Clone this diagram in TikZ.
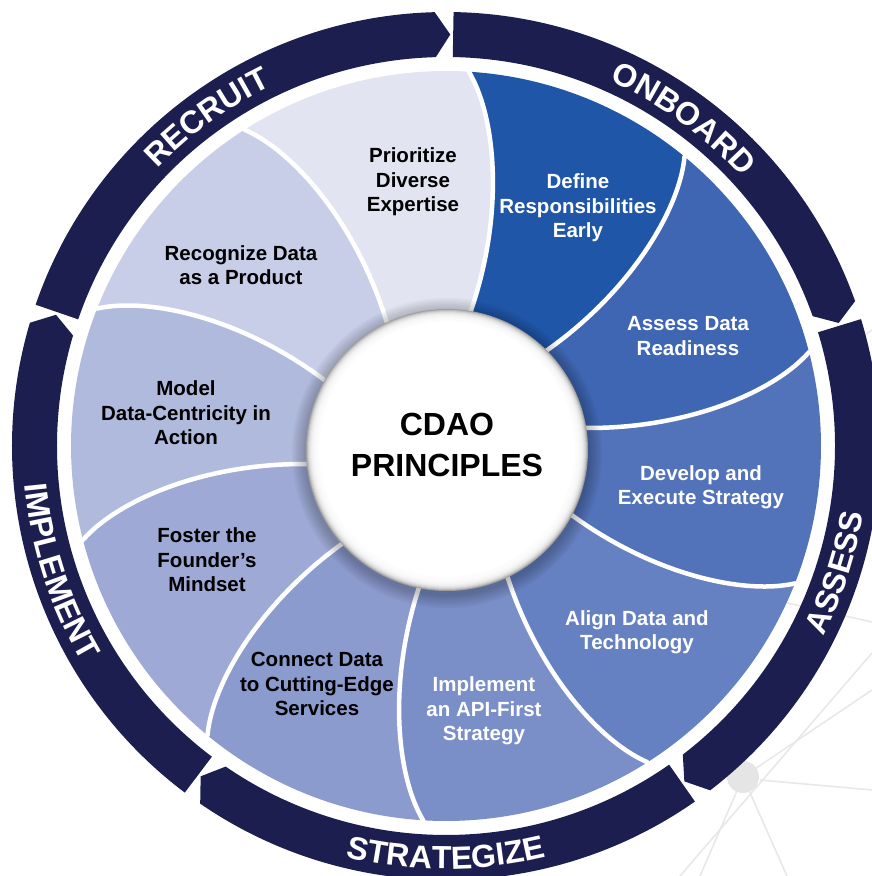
\documentclass[tikz,border=0pt]{standalone}
\usepackage{fontspec}
\setmainfont{Liberation Sans}
\usepackage{xcolor}
\definecolor{ringnavy}{HTML}{1D1E50}
\definecolor{petalPD}{HTML}{E2E5F1}
\definecolor{petalDR}{HTML}{2056A8}
\definecolor{petalAD}{HTML}{3F66B2}
\definecolor{petalDE}{HTML}{5272B9}
\definecolor{petalAT}{HTML}{6681C1}
\definecolor{petalIA}{HTML}{7A8FC8}
\definecolor{petalCD}{HTML}{8C9BCE}
\definecolor{petalFF}{HTML}{9EAAD5}
\definecolor{petalMD}{HTML}{B0BADD}
\definecolor{petalRD}{HTML}{C8CEE8}
\usepackage{tikz}
\usetikzlibrary{decorations.text}

% one petal between boundary angle #1 and #1+36
\newcommand{\wedgepetal}[2]{%
  \fill[#2] (#1:120) .. controls (#1-6:230) and (#1:330) .. (#1+5.5:375)
    arc[start angle=#1+5.5, end angle=#1+41.5, radius=375]
    .. controls (#1+36:330) and (#1+30:230) .. (#1+36:120) -- cycle;}
% white seam along a petal boundary
\newcommand{\petalseam}[1]{%
  \draw[seam] (#1:120) .. controls (#1-6:230) and (#1:330) .. (#1+5.5:375);}
% ring arrow segment, #1 = gap angle at its head
\newcommand{\ringseg}[1]{%
  \fill[ringnavy] (#1+71:434) arc[start angle=#1+71, end angle=#1+1.5, radius=434]
    -- (#1-0.6:411.5) -- (#1+1.5:389)
    arc[start angle=#1+1.5, end angle=#1+71, radius=389] -- cycle;}
\newcommand{\ringfont}{\bfseries\fontsize{32}{36}\selectfont}
% label on the upper half (read clockwise) and lower half (read counterclockwise)
\newcommand{\ringtop}[2]{%
  \path[decorate, decoration={text along path, text align=center, text color=white,
    text={|\ringfont|#2}}] (#1+45:400) arc[start angle=#1+45, end angle=#1-45, radius=400];}
\newcommand{\ringbot}[2]{%
  \path[decorate, decoration={text along path, text align=center, text color=white,
    text={|\ringfont|#2}}] (#1-45:423) arc[start angle=#1-45, end angle=#1+45, radius=423];}

\begin{document}
\begin{tikzpicture}[
    x=1pt, y=1pt,
    seam/.style={draw=white, line width=4.5pt, line cap=round},
    net/.style={draw=black!9, line width=1.6pt},
    lbl/.style={align=center, font=\bfseries\fontsize{20.5}{24.5}\selectfont},
    lbldark/.style={lbl, text=white},
    hub/.style={align=center, font=\bfseries\fontsize{32}{41}\selectfont}
]
\useasboundingbox (-446,-430) rectangle (426,446);

% ==================== BACKGROUND NETWORK ====================
\draw[net] (234,-430) -- (426,-207);
\draw[net] (341,-157) -- (426,-176);
\draw[net] (314,-334) -- (426,-344);
\draw[net] (297,-331) -- (254,-430);
\draw[net] (297,-331) -- (341,-430);
\draw[net] (297,-331) -- (426,-244);
\draw[net] (384,86) -- (426,116);
\fill[black!10] (297,-331) circle (16);

% ==================== PETALS ====================
\wedgepetal{81}{petalPD}
\wedgepetal{45}{petalDR}
\wedgepetal{9}{petalAD}
\wedgepetal{-27}{petalDE}
\wedgepetal{-63}{petalAT}
\wedgepetal{-99}{petalIA}
\wedgepetal{-135}{petalCD}
\wedgepetal{-171}{petalFF}
\wedgepetal{-207}{petalMD}
\wedgepetal{-243}{petalRD}

\petalseam{81}
\petalseam{45}
\petalseam{9}
\petalseam{-27}
\petalseam{-63}
\petalseam{-99}
\petalseam{-135}
\petalseam{-171}
\petalseam{-207}
\petalseam{-243}

% ==================== CENTRE DISC ====================
\foreach \s in {14,12,...,2}
    \fill[black, opacity=0.035] (1,-7) circle (141+\s);
\fill[black!38] (1,-4) circle (141);
\foreach \r in {140,139,...,129}
    \fill[white, opacity=0.3] (1,-4) circle (\r);
\fill[white] (1,-3) circle (128);

\node[hub] (hub) at (1,1) {CDAO\\PRINCIPLES};

% ==================== OUTER RING ====================
\ringseg{90}
\ringseg{18}
\ringseg{-54}
\ringseg{-126}
\ringseg{162}

\ringtop{126}{RECRUIT}
\ringtop{54}{ONBOARD}
\ringbot{-18}{ASSESS}
\ringbot{-90}{STRATEGIZE}
\ringbot{198}{IMPLEMENT}

% ==================== PETAL LABELS ====================
\node[lbl] (prioritize) at (-33,264) {Prioritize\\Diverse\\Expertise};
\node[lbldark] (define) at (132,238) {Define\\Responsibilities\\Early};
\node[lbldark] (assess) at (242,110) {Assess Data\\Readiness};
\node[lbldark] (develop) at (255,-41) {Develop and\\Execute Strategy};
\node[lbldark] (align) at (191,-186) {Align Data and\\Technology};
\node[lbldark] (apifirst) at (38,-265) {Implement\\an API-First\\Strategy};
\node[lbl] (connect) at (-129,-238) {Connect Data\\to Cutting-Edge\\Services};
\node[lbl] (founder) at (-239,-114) {Foster the\\Founder’s\\Mindset};
\node[lbl] (modeldc) at (-260,33) {Model\\Data-Centricity in\\Action};
\node[lbl] (product) at (-205,181) {Recognize Data\\as a Product};

\end{tikzpicture}
\end{document}
